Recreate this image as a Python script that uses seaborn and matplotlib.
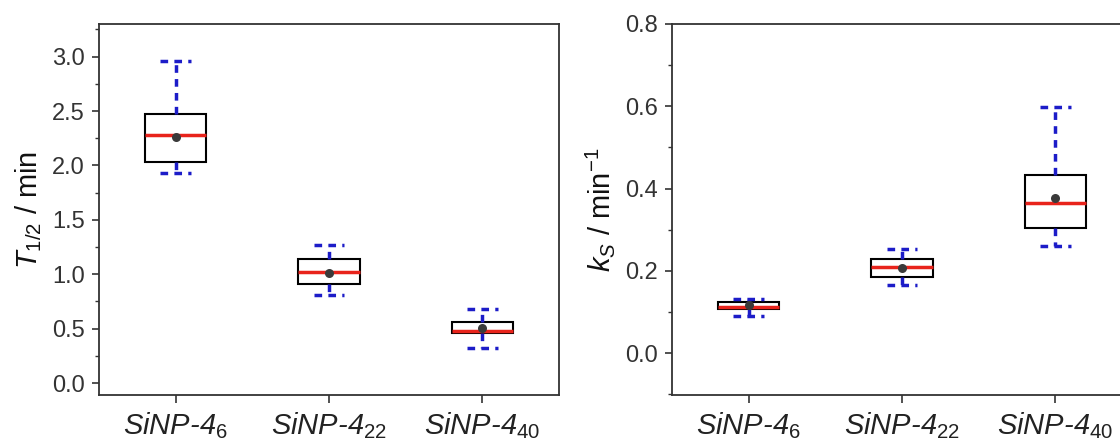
import numpy as np
import pandas as pd
import seaborn as sns
import matplotlib.pyplot as plt
from matplotlib.ticker import MultipleLocator


groups = ["SiNP-4_6", "SiNP-4_22", "SiNP-4_40"]
tick_labels = [r"SiNP-4$_{\mathit{6}}$", r"SiNP-4$_{\mathit{22}}$", r"SiNP-4$_{\mathit{40}}$"]

# T1/2 (min): five-number summary + mean
t_half_low = [1.93, 0.81, 0.325]
t_half_q1 = [2.03, 0.91, 0.46]
t_half_median = [2.28, 1.02, 0.475]
t_half_q3 = [2.47, 1.14, 0.56]
t_half_high = [2.96, 1.265, 0.677]
t_half_mean = [2.265, 1.01, 0.505]

# kS (1/min): right panel
ks_low = [0.089, 0.165, 0.261]
ks_q1 = [0.107, 0.184, 0.304]
ks_median = [0.113, 0.21, 0.366]
ks_q3 = [0.124, 0.228, 0.432]
ks_high = [0.131, 0.253, 0.598]
ks_mean = [0.117, 0.207, 0.376]

BLUE = "#1c1cc8"
RED = "#e8231b"
DARK = "#333333"


def summary_frame(low, q1, med, q3, high):
    rows = []
    for i, g in enumerate(groups):
        for v in (low[i], q1[i], med[i], q3[i], high[i]):
            rows.append({"group": g, "value": v})
    return pd.DataFrame(rows)


sns.set_style("ticks")
plt.rcParams["font.family"] = ["Liberation Sans", "DejaVu Sans"]
plt.rcParams["mathtext.fontset"] = "custom"
plt.rcParams["mathtext.rm"] = "Liberation Sans"
plt.rcParams["mathtext.it"] = "Liberation Sans:italic"
plt.rcParams["mathtext.default"] = "it"

fig = plt.figure(figsize=(11.2, 4.41), dpi=100)
ax1 = fig.add_axes([99 / 1120, 46 / 441, 460 / 1120, 371 / 441])
ax2 = fig.add_axes([672 / 1120, 46 / 441, 460 / 1120, 371 / 441])

panels = [
    (ax1, summary_frame(t_half_low, t_half_q1, t_half_median, t_half_q3, t_half_high), t_half_mean,
     (-0.11, 3.3), 0.5, 0.25, r"$T_{\mathit{1/2}}$ / min"),
    (ax2, summary_frame(ks_low, ks_q1, ks_median, ks_q3, ks_high), ks_mean,
     (-0.102, 0.8), 0.2, 0.1, r"$k_{\mathit{S}}$ / min$^{\mathrm{-1}}$"),
]

for ax, df, means, ylim, major, minor, ylabel in panels:
    sns.boxplot(
        data=df, x="group", y="value", order=groups, ax=ax,
        width=0.4, whis=(0, 100), color="white", linecolor="black", linewidth=1.5,
        showfliers=False,
        medianprops={"color": RED, "linewidth": 2.5},
        whiskerprops={"color": BLUE, "linewidth": 2.5, "linestyle": (0, (2.2, 1.8))},
        capprops={"color": BLUE, "linewidth": 2.5, "linestyle": (0, (2.2, 1.8))},
    )
    sns.stripplot(x=groups, y=means, order=groups, jitter=False, color="#3a3a3a",
                  size=6.5, ax=ax, zorder=5)

    ax.set_xlim(-0.5, 2.5)
    ax.set_ylim(*ylim)
    ax.yaxis.set_major_locator(MultipleLocator(major))
    ax.yaxis.set_minor_locator(MultipleLocator(minor))
    ax.yaxis.set_major_formatter(plt.FormatStrFormatter("%.1f"))
    ax.set_xticks(range(len(groups)))
    ax.set_xticklabels(tick_labels, fontsize=21, fontstyle="italic", color="#222222")
    ax.tick_params(axis="y", which="major", length=5, width=1.2, color=DARK,
                   labelsize=17, labelcolor=DARK, pad=5)
    ax.tick_params(axis="y", which="minor", length=3, width=1.0, color=DARK)
    ax.tick_params(axis="x", which="major", length=6, width=1.2, color=DARK, pad=5)
    ax.set_xlabel("")
    ax.set_ylabel(ylabel, fontsize=21, color="#111111", labelpad=6)
    for side in ["left", "right", "top", "bottom"]:
        ax.spines[side].set_visible(True)
        ax.spines[side].set_color(DARK)
        ax.spines[side].set_linewidth(1.3)

fig.savefig("out.png", dpi=100)
